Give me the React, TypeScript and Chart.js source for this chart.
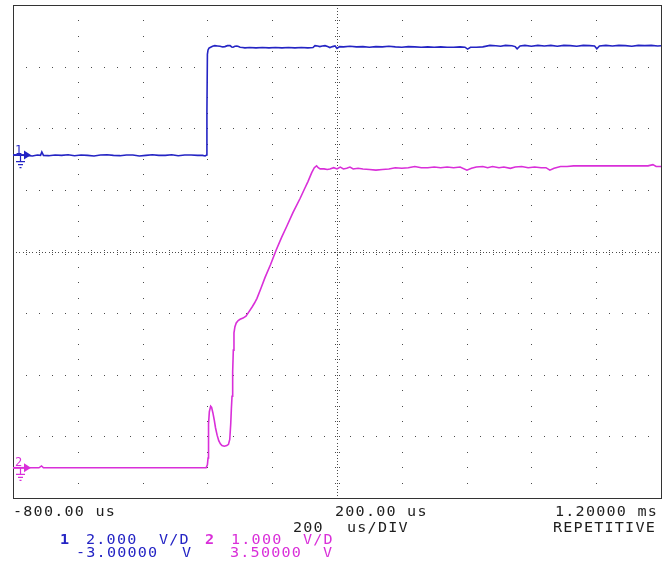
import React, { useEffect, useRef } from 'react';
import { Chart, registerables } from 'chart.js';

Chart.register(...registerables);

// ---------------- data (time in µs, volts) ----------------
const ch1Time = [
  -800, -780, -760, -740, -725, -715, -711, -706, -690, -670, -650, -630, -610, -590, -570, -550,
  -530, -510, -490, -470, -450, -430, -410, -390, -370, -350, -330, -310, -290, -270, -250, -230,
  -215, -207, -202.5, -201.5, -200, -198, -195, -190, -184, -177, -169, -161, -153, -146, -138, -130,
  -125, -121, -115, -109, -104, -99, -92, -84, -70, -50, -30, -10, 10, 30, 50, 70, 90, 110, 126,
  132, 140, 147, 155, 163, 171, 178, 186, 194, 200, 208, 220, 240, 260, 280, 300, 320, 340, 360,
  380, 400, 420, 440, 460, 480, 500, 520, 540, 560, 580, 595, 603, 612, 630, 650, 672, 690, 705,
  720, 740, 750, 756, 765, 780, 800, 820, 840, 860, 880, 900, 920, 940, 960, 980, 995, 1002, 1010,
  1030, 1050, 1070, 1090, 1110, 1130, 1150, 1170, 1190, 1200,
];
const ch1Volts = [
  0.13, 0.13, 0.12, 0.10, 0.13, 0.12, 0.23, 0.12, 0.11, 0.13, 0.12, 0.14, 0.11, 0.13, 0.12, 0.10,
  0.13, 0.14, 0.12, 0.11, 0.13, 0.13, 0.10, 0.12, 0.14, 0.12, 0.12, 0.14, 0.11, 0.13, 0.13, 0.12,
  0.12, 0.10, 0.13, 1.50, 3.40, 3.54, 3.60, 3.63, 3.66, 3.68, 3.67, 3.66, 3.64, 3.65, 3.68, 3.68,
  3.64, 3.63, 3.66, 3.67, 3.65, 3.63, 3.62, 3.61, 3.62, 3.61, 3.62, 3.61, 3.62, 3.61, 3.62, 3.61, 3.62, 3.61, 3.62,
  3.68, 3.67, 3.65, 3.67, 3.68, 3.65, 3.62, 3.65, 3.67, 3.59, 3.65, 3.64, 3.66, 3.64, 3.65, 3.63, 3.65, 3.64, 3.66,
  3.64, 3.63, 3.65, 3.64, 3.63, 3.64, 3.63, 3.64, 3.63, 3.63, 3.64, 3.63, 3.57, 3.63, 3.63, 3.64, 3.69, 3.68, 3.66,
  3.69, 3.68, 3.65, 3.58, 3.67, 3.69, 3.66, 3.69, 3.67, 3.69, 3.66, 3.69, 3.68, 3.66, 3.69, 3.68, 3.67, 3.58, 3.67,
  3.69, 3.67, 3.69, 3.68, 3.66, 3.69, 3.68, 3.69, 3.67, 3.68,
];

const ch2Time = [
  -800, -760, -720, -712, -706, -680, -650, -600, -550, -500, -450, -400, -350, -300, -250, -204,
  -200, -198, -196.5, -194, -190, -187, -183, -179, -175, -170, -165, -160, -155, -148, -140, -135,
  -131, -128, -126, -124, -122, -120, -118, -115, -111, -105, -99, -90, -81, -72, -62, -55, -47,
  -35, -22, -5, 12, 29, 45, 64, 86, 101, 110, 122, 130, 137, 142, 148, 160, 170, 178, 190, 200,
  210, 220, 230, 240, 250, 265, 280, 300, 320, 340, 360, 380, 400, 420, 440, 460, 480, 500, 520,
  540, 560, 580, 601, 615, 630, 650, 665, 680, 700, 715, 735, 750, 770, 790, 810, 830, 845, 857,
  870, 890, 910, 930, 960, 1000, 1040, 1080, 1120, 1160, 1175, 1185, 1200,
];
const ch2Volts = [
  -0.01, -0.01, -0.01, 0.02, -0.01, -0.01, -0.01, -0.01, -0.01, -0.01, -0.01, -0.01, -0.01, -0.01, -0.01, -0.01,
  0.04, 0.15, 0.70, 0.90, 0.99, 0.97, 0.88, 0.77, 0.64, 0.52, 0.43, 0.38, 0.35, 0.34, 0.35, 0.37,
  0.45, 0.70, 0.95, 1.15, 1.55, 1.90, 2.18, 2.28, 2.34, 2.38, 2.40, 2.42, 2.45, 2.52, 2.60, 2.66, 2.74,
  2.90, 3.08, 3.29, 3.52, 3.73, 3.91, 4.13, 4.36, 4.53, 4.63, 4.78, 4.86, 4.89, 4.86, 4.84, 4.84, 4.83, 4.84, 4.86, 4.84,
  4.87, 4.84, 4.85, 4.87, 4.84, 4.85, 4.84, 4.83, 4.82, 4.83, 4.84, 4.86, 4.85, 4.86, 4.88, 4.86, 4.86, 4.87, 4.86,
  4.87, 4.86, 4.87, 4.82, 4.85, 4.87, 4.88, 4.86, 4.88, 4.86, 4.87, 4.85, 4.87, 4.88, 4.86, 4.87, 4.86, 4.86, 4.82,
  4.85, 4.88, 4.88, 4.89, 4.89, 4.89, 4.89, 4.89, 4.89, 4.89, 4.91, 4.88, 4.88,
];

// axis / setup labels
const timeLabels = ['-800.00 us', '200.00 us', '1.20000 ms'];
const timebaseLabels = ['200', 'us/DIV'];
const modeLabel = 'REPETITIVE';
const ch1Labels = ['1', '2.000', 'V/D', '-3.00000', 'V'];
const ch2Labels = ['2', '1.000', 'V/D', '3.50000', 'V'];

const TIME_MIN = -800;
const TIME_MAX = 1200;
const H_DIVS = 10;
const V_DIVS = 8;
const CH1_CENTER = -3;
const CH1_VDIV = 2;
const CH2_CENTER = 3.5;
const CH2_VDIV = 1;
const CH1_MARKER = 0.13;
const CH2_MARKER = -0.01;

// ---------------- styles ----------------
const BLUE = '#2424c4';
const MAGENTA = '#d92fd9';
const INK = '#1e1e1e';
const GRID = '#4a4a4a';
const FONT = '"DejaVu Sans Mono", "Liberation Mono", monospace';
const ADV = 10.3;

const scopeGrid = {
  id: 'scopeGrid',
  beforeDatasetsDraw(chart: any) {
    const { ctx, chartArea: a, scales } = chart;
    const xs = scales.x;
    const ys = scales.y2;
    const xDiv = (TIME_MAX - TIME_MIN) / H_DIVS;
    const yMin = CH2_CENTER - (CH2_VDIV * V_DIVS) / 2;
    ctx.save();
    ctx.fillStyle = GRID;
    const dot = (x: number, y: number) => ctx.fillRect(Math.round(x), Math.round(y), 1, 1);
    for (let i = 1; i < H_DIVS; i++) {
      if (i === H_DIVS / 2) continue;
      const px = xs.getPixelForValue(TIME_MIN + i * xDiv);
      for (let j = 1; j < V_DIVS * 4; j++) dot(px, ys.getPixelForValue(yMin + (j * CH2_VDIV) / 4));
    }
    for (let j = 1; j < V_DIVS; j++) {
      if (j === V_DIVS / 2) continue;
      const py = ys.getPixelForValue(yMin + j * CH2_VDIV);
      for (let i = 1; i < H_DIVS * 5; i++) dot(xs.getPixelForValue(TIME_MIN + (i * xDiv) / 5), py);
    }
    const cy = ys.getPixelForValue(CH2_CENTER);
    for (let i = 1; i < H_DIVS * 20; i++) dot(xs.getPixelForValue(TIME_MIN + (i * xDiv) / 20), cy);
    for (let i = 1; i < H_DIVS * 5; i++) {
      const px = xs.getPixelForValue(TIME_MIN + (i * xDiv) / 5);
      dot(px, cy - 2);
      dot(px, cy + 2);
    }
    const cx = xs.getPixelForValue((TIME_MIN + TIME_MAX) / 2);
    for (let j = 1; j < V_DIVS * 20; j++) dot(cx, ys.getPixelForValue(yMin + (j * CH2_VDIV) / 20));
    for (let j = 1; j < V_DIVS * 4; j++) {
      const py = ys.getPixelForValue(yMin + (j * CH2_VDIV) / 4);
      dot(cx - 2, py);
      dot(cx + 2, py);
    }
    ctx.strokeStyle = '#333';
    ctx.lineWidth = 1;
    ctx.strokeRect(a.left + 0.5, a.top + 0.5, a.right - a.left, a.bottom - a.top);
    ctx.restore();
  },
};

function drawMarker(ctx: CanvasRenderingContext2D, x0: number, y: number, label: string, color: string) {
  ctx.save();
  ctx.strokeStyle = color;
  ctx.fillStyle = color;
  ctx.font = `12px ${FONT}`;
  ctx.textBaseline = 'alphabetic';
  ctx.fillText(label, x0 + 2, y - 1.5);
  ctx.lineWidth = 1.8;
  ctx.beginPath();
  ctx.moveTo(x0, y);
  ctx.lineTo(x0 + 12, y);
  ctx.stroke();
  ctx.beginPath();
  ctx.moveTo(x0 + 11, y - 4.5);
  ctx.lineTo(x0 + 18, y);
  ctx.lineTo(x0 + 11, y + 4.5);
  ctx.closePath();
  ctx.fill();
  ctx.lineWidth = 1.2;
  ctx.beginPath();
  ctx.moveTo(x0 + 7.5, y);
  ctx.lineTo(x0 + 7.5, y + 6);
  ctx.moveTo(x0 + 3, y + 6.5);
  ctx.lineTo(x0 + 12, y + 6.5);
  ctx.moveTo(x0 + 5, y + 9.5);
  ctx.lineTo(x0 + 10, y + 9.5);
  ctx.moveTo(x0 + 6.5, y + 12.5);
  ctx.lineTo(x0 + 8.5, y + 12.5);
  ctx.stroke();
  ctx.restore();
}

const markers = {
  id: 'markers',
  afterDatasetsDraw(chart: any) {
    const { ctx, chartArea: a, scales } = chart;
    drawMarker(ctx, a.left, scales.y1.getPixelForValue(CH1_MARKER), ch1Labels[0], BLUE);
    drawMarker(ctx, a.left, scales.y2.getPixelForValue(CH2_MARKER), ch2Labels[0], MAGENTA);
  },
};

function mono(ctx: CanvasRenderingContext2D, text: string, x: number, y: number, color: string, bold = false) {
  ctx.fillStyle = color;
  ctx.font = `${bold ? 'bold ' : ''}14px ${FONT}`;
  for (let i = 0; i < text.length; i++) {
    ctx.save();
    ctx.translate(x + i * ADV, y);
    ctx.scale(1.08, 1);
    ctx.fillText(text[i], 0, 0);
    ctx.restore();
  }
}

const scopeText = {
  id: 'scopeText',
  afterDraw(chart: any) {
    const { ctx } = chart;
    ctx.save();
    ctx.textBaseline = 'alphabetic';
    ctx.textAlign = 'left';
    mono(ctx, timeLabels[0], 13, 515.5, INK);
    mono(ctx, timeLabels[1], 335, 515.5, INK);
    mono(ctx, timeLabels[2], 555, 515.5, INK);
    mono(ctx, timebaseLabels[0], 293, 532, INK);
    mono(ctx, timebaseLabels[1], 347, 532, INK);
    mono(ctx, modeLabel, 553, 532, INK);
    mono(ctx, ch1Labels[0], 60, 543.5, BLUE, true);
    mono(ctx, ch1Labels[1], 86, 543.5, BLUE);
    mono(ctx, ch1Labels[2], 159, 543.5, BLUE);
    mono(ctx, ch1Labels[3], 76, 556.5, BLUE);
    mono(ctx, ch1Labels[4], 182, 556.5, BLUE);
    mono(ctx, ch2Labels[0], 205, 543.5, MAGENTA, true);
    mono(ctx, ch2Labels[1], 231, 543.5, MAGENTA);
    mono(ctx, ch2Labels[2], 303, 543.5, MAGENTA);
    mono(ctx, ch2Labels[3], 230, 556.5, MAGENTA);
    mono(ctx, ch2Labels[4], 323, 556.5, MAGENTA);
    ctx.restore();
  },
};

export default function App() {
  const ref = useRef<HTMLCanvasElement>(null);
  useEffect(() => {
    const chart = new Chart(ref.current as HTMLCanvasElement, {
      type: 'line',
      data: {
        datasets: [
          {
            label: 'CH1',
            data: ch1Time.map((t, i) => ({ x: t, y: ch1Volts[i] })),
            yAxisID: 'y1',
            borderColor: BLUE,
            borderWidth: 1.6,
            pointRadius: 0,
            tension: 0,
          },
          {
            label: 'CH2',
            data: ch2Time.map((t, i) => ({ x: t, y: ch2Volts[i] })),
            yAxisID: 'y2',
            borderColor: MAGENTA,
            borderWidth: 1.6,
            pointRadius: 0,
            tension: 0,
          },
        ],
      },
      options: {
        responsive: false,
        animation: false,
        events: [],
        layout: { padding: { left: 13, top: 5, right: 9, bottom: 67 } },
        plugins: { legend: { display: false }, tooltip: { enabled: false } },
        scales: {
          x: { type: 'linear', min: TIME_MIN, max: TIME_MAX, display: false },
          y1: {
            type: 'linear',
            min: CH1_CENTER - (CH1_VDIV * V_DIVS) / 2,
            max: CH1_CENTER + (CH1_VDIV * V_DIVS) / 2,
            display: false,
          },
          y2: {
            type: 'linear',
            min: CH2_CENTER - (CH2_VDIV * V_DIVS) / 2,
            max: CH2_CENTER + (CH2_VDIV * V_DIVS) / 2,
            display: false,
          },
        },
      },
      plugins: [scopeGrid, markers, scopeText],
    } as any);
    return () => chart.destroy();
  }, []);
  return (
    <div style={{ position: 'fixed', left: 0, top: 0, width: 670, height: 565, background: '#fff' }}>
      <canvas ref={ref} width={670} height={565} style={{ display: 'block', width: 670, height: 565 }} />
    </div>
  );
}
